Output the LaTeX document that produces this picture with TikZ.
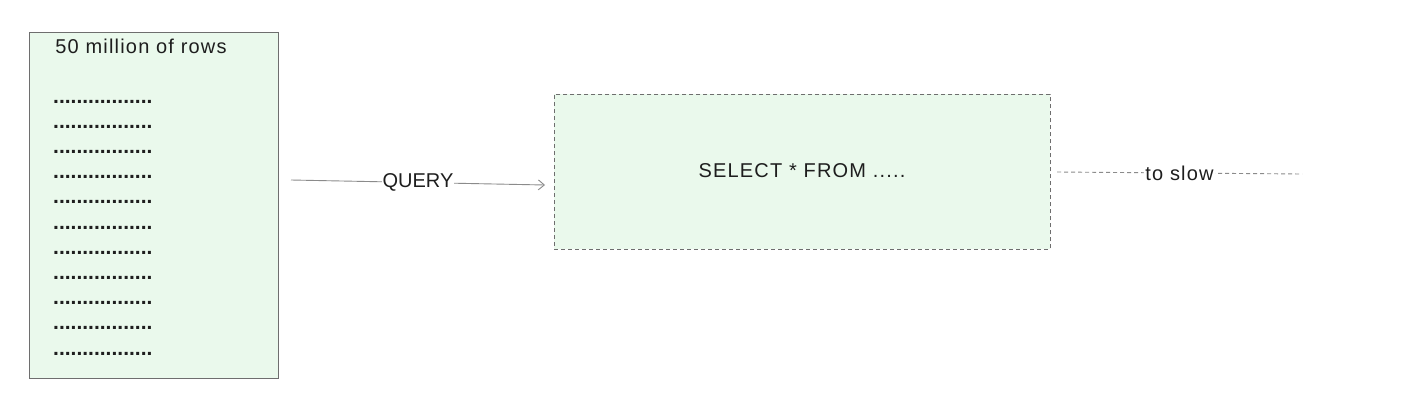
\documentclass[tikz,border=0pt]{standalone}
\usepackage{fontspec}
\setmainfont{Liberation Sans}
\usetikzlibrary{arrows.meta}
\definecolor{fillgreen}{RGB}{234,249,236}
\definecolor{edgegray}{RGB}{110,110,110}
\definecolor{ink}{RGB}{30,30,30}
\tikzset{
  tablebox/.style={draw=edgegray, line width=0.8pt, fill=fillgreen},
  querybox/.style={draw=edgegray, line width=0.8pt, dashed, dash pattern=on 4pt off 3pt, fill=fillgreen},
  hand/.style={font=\fontsize{20}{24}\selectfont\addfontfeature{LetterSpace=6}, text=ink, inner sep=2pt},
  dotrow/.style={font=\fontsize{21}{24}\selectfont\bfseries, text=ink, inner sep=0pt, anchor=base west},
  conn/.style={draw=edgegray!80, line width=0.9pt},
}
\begin{document}
\begin{tikzpicture}[x=1pt,y=-1pt]
\useasboundingbox (0,0) rectangle (1422,410);
\path[fill=white] (0,0) rectangle (1422,410);
% left table
\path[tablebox] (29,32) rectangle (278,378);
\node[hand] (title) at (141,46) {50 million of rows};
\foreach \y [count=\i] in {101,126,151,176,201,227,252,277,302,327,353}{
  \node[dotrow] (row\i) at (53,\y+2) {.................};
}
% query box
\node[querybox, minimum width=496pt, minimum height=155pt, anchor=north west] (qbox) at (554,94) {};
\node[hand] (sql) at (802,171) {SELECT * FROM .....};
% connectors
\coordinate (qs) at (291,180);
\coordinate (qe) at (545,185);
\draw[conn, -{Straight Barb[length=6pt,width=10pt]}] (qs) -- node[hand, fill=white, inner sep=1pt, font=\fontsize{20}{24}\selectfont] (qlabel) {QUERY} (qe);
\coordinate (ss) at (1057,172);
\coordinate (se) at (1302,174);
\draw[conn, dashed, dash pattern=on 4pt off 3pt] (ss) -- node[hand, fill=white, inner sep=1pt] (slabel) {to slow} (se);
\end{tikzpicture}
\end{document}
